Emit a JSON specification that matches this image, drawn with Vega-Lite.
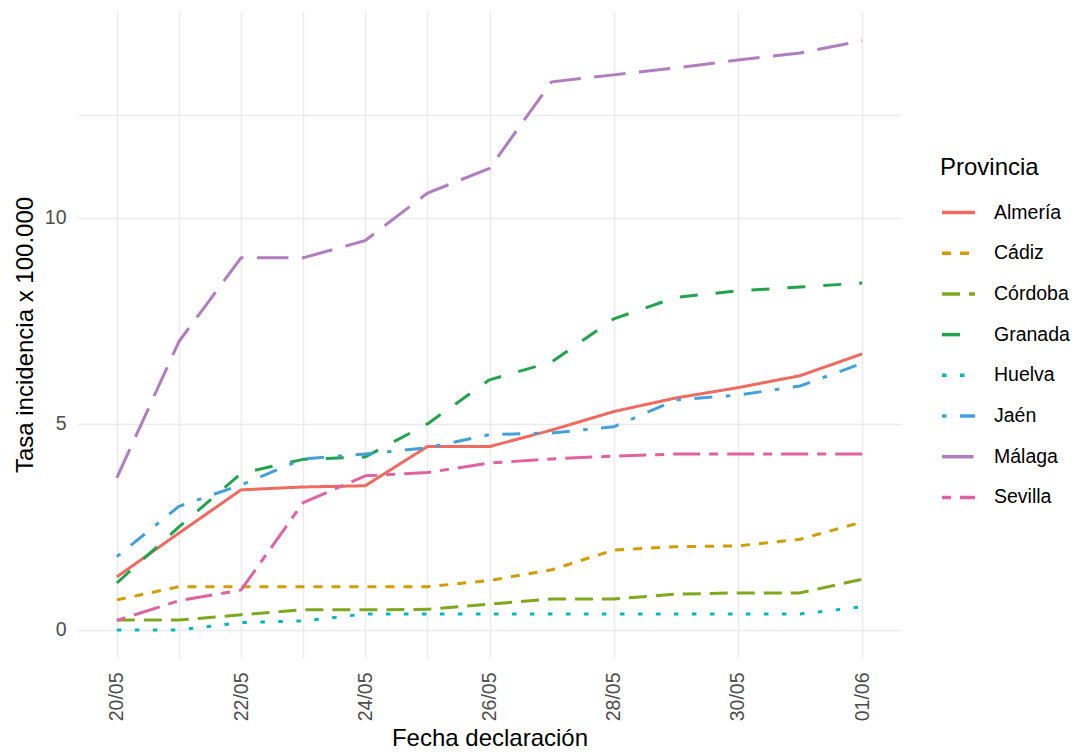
{
  "$schema": "https://vega.github.io/schema/vega-lite/v6.json",
  "autosize": {"type": "none"},
  "width": 823,
  "height": 647,
  "padding": {"left": 78, "top": 11, "right": 176, "bottom": 98},
  "background": "white",
  "config": {
    "font": "Liberation Sans",
    "view": {"stroke": null},
    "axis": {
      "ticks": false,
      "domain": false,
      "grid": true,
      "gridColor": "#EBEBEB",
      "gridWidth": 1.5,
      "labelFontSize": 19.5,
      "labelColor": "#4D4D4D",
      "labelFont": "Liberation Sans",
      "titleFont": "Liberation Sans",
      "titleFontSize": 24,
      "titleFontWeight": "normal",
      "titleColor": "#000000"
    },
    "legend": {
      "symbolType": "stroke",
      "symbolSize": 1089,
      "symbolStrokeWidth": 3.5,
      "labelFontSize": 19.5,
      "labelColor": "#000000",
      "labelFont": "Liberation Sans",
      "titleFont": "Liberation Sans",
      "titleFontSize": 24,
      "titleFontWeight": "normal",
      "titleColor": "#000000",
      "labelOffset": 17,
      "rowPadding": 12.7,
      "titlePadding": 14,
      "padding": 0
    }
  },
  "data": {
    "values": [
      {"fecha": "2020-05-20", "provincia": "Almería", "tasa": 1.29},
      {"fecha": "2020-05-21", "provincia": "Almería", "tasa": 2.35},
      {"fecha": "2020-05-22", "provincia": "Almería", "tasa": 3.4},
      {"fecha": "2020-05-23", "provincia": "Almería", "tasa": 3.47},
      {"fecha": "2020-05-24", "provincia": "Almería", "tasa": 3.5},
      {"fecha": "2020-05-25", "provincia": "Almería", "tasa": 4.45},
      {"fecha": "2020-05-26", "provincia": "Almería", "tasa": 4.45},
      {"fecha": "2020-05-27", "provincia": "Almería", "tasa": 4.85},
      {"fecha": "2020-05-28", "provincia": "Almería", "tasa": 5.3},
      {"fecha": "2020-05-29", "provincia": "Almería", "tasa": 5.63},
      {"fecha": "2020-05-30", "provincia": "Almería", "tasa": 5.88},
      {"fecha": "2020-05-31", "provincia": "Almería", "tasa": 6.17},
      {"fecha": "2020-06-01", "provincia": "Almería", "tasa": 6.7},

      {"fecha": "2020-05-20", "provincia": "Cádiz", "tasa": 0.73},
      {"fecha": "2020-05-21", "provincia": "Cádiz", "tasa": 1.05},
      {"fecha": "2020-05-22", "provincia": "Cádiz", "tasa": 1.05},
      {"fecha": "2020-05-23", "provincia": "Cádiz", "tasa": 1.05},
      {"fecha": "2020-05-24", "provincia": "Cádiz", "tasa": 1.05},
      {"fecha": "2020-05-25", "provincia": "Cádiz", "tasa": 1.05},
      {"fecha": "2020-05-26", "provincia": "Cádiz", "tasa": 1.2},
      {"fecha": "2020-05-27", "provincia": "Cádiz", "tasa": 1.46},
      {"fecha": "2020-05-28", "provincia": "Cádiz", "tasa": 1.94},
      {"fecha": "2020-05-29", "provincia": "Cádiz", "tasa": 2.02},
      {"fecha": "2020-05-30", "provincia": "Cádiz", "tasa": 2.04},
      {"fecha": "2020-05-31", "provincia": "Cádiz", "tasa": 2.2},
      {"fecha": "2020-06-01", "provincia": "Cádiz", "tasa": 2.62},

      {"fecha": "2020-05-20", "provincia": "Córdoba", "tasa": 0.24},
      {"fecha": "2020-05-21", "provincia": "Córdoba", "tasa": 0.24},
      {"fecha": "2020-05-22", "provincia": "Córdoba", "tasa": 0.37},
      {"fecha": "2020-05-23", "provincia": "Córdoba", "tasa": 0.49},
      {"fecha": "2020-05-24", "provincia": "Córdoba", "tasa": 0.49},
      {"fecha": "2020-05-25", "provincia": "Córdoba", "tasa": 0.5},
      {"fecha": "2020-05-26", "provincia": "Córdoba", "tasa": 0.63},
      {"fecha": "2020-05-27", "provincia": "Córdoba", "tasa": 0.75},
      {"fecha": "2020-05-28", "provincia": "Córdoba", "tasa": 0.75},
      {"fecha": "2020-05-29", "provincia": "Córdoba", "tasa": 0.87},
      {"fecha": "2020-05-30", "provincia": "Córdoba", "tasa": 0.9},
      {"fecha": "2020-05-31", "provincia": "Córdoba", "tasa": 0.9},
      {"fecha": "2020-06-01", "provincia": "Córdoba", "tasa": 1.23},

      {"fecha": "2020-05-20", "provincia": "Granada", "tasa": 1.14},
      {"fecha": "2020-05-21", "provincia": "Granada", "tasa": 2.5},
      {"fecha": "2020-05-22", "provincia": "Granada", "tasa": 3.8},
      {"fecha": "2020-05-23", "provincia": "Granada", "tasa": 4.14},
      {"fecha": "2020-05-24", "provincia": "Granada", "tasa": 4.2},
      {"fecha": "2020-05-25", "provincia": "Granada", "tasa": 5.0},
      {"fecha": "2020-05-26", "provincia": "Granada", "tasa": 6.07},
      {"fecha": "2020-05-27", "provincia": "Granada", "tasa": 6.5},
      {"fecha": "2020-05-28", "provincia": "Granada", "tasa": 7.55},
      {"fecha": "2020-05-29", "provincia": "Granada", "tasa": 8.07},
      {"fecha": "2020-05-30", "provincia": "Granada", "tasa": 8.23},
      {"fecha": "2020-05-31", "provincia": "Granada", "tasa": 8.32},
      {"fecha": "2020-06-01", "provincia": "Granada", "tasa": 8.42},

      {"fecha": "2020-05-20", "provincia": "Huelva", "tasa": 0.0},
      {"fecha": "2020-05-21", "provincia": "Huelva", "tasa": 0.0},
      {"fecha": "2020-05-22", "provincia": "Huelva", "tasa": 0.18},
      {"fecha": "2020-05-23", "provincia": "Huelva", "tasa": 0.22},
      {"fecha": "2020-05-24", "provincia": "Huelva", "tasa": 0.39},
      {"fecha": "2020-05-25", "provincia": "Huelva", "tasa": 0.39},
      {"fecha": "2020-05-26", "provincia": "Huelva", "tasa": 0.39},
      {"fecha": "2020-05-27", "provincia": "Huelva", "tasa": 0.39},
      {"fecha": "2020-05-28", "provincia": "Huelva", "tasa": 0.39},
      {"fecha": "2020-05-29", "provincia": "Huelva", "tasa": 0.39},
      {"fecha": "2020-05-30", "provincia": "Huelva", "tasa": 0.39},
      {"fecha": "2020-05-31", "provincia": "Huelva", "tasa": 0.39},
      {"fecha": "2020-06-01", "provincia": "Huelva", "tasa": 0.56},

      {"fecha": "2020-05-20", "provincia": "Jaén", "tasa": 1.78},
      {"fecha": "2020-05-21", "provincia": "Jaén", "tasa": 3.0},
      {"fecha": "2020-05-22", "provincia": "Jaén", "tasa": 3.52},
      {"fecha": "2020-05-23", "provincia": "Jaén", "tasa": 4.15},
      {"fecha": "2020-05-24", "provincia": "Jaén", "tasa": 4.27},
      {"fecha": "2020-05-25", "provincia": "Jaén", "tasa": 4.42},
      {"fecha": "2020-05-26", "provincia": "Jaén", "tasa": 4.74},
      {"fecha": "2020-05-27", "provincia": "Jaén", "tasa": 4.78},
      {"fecha": "2020-05-28", "provincia": "Jaén", "tasa": 4.93},
      {"fecha": "2020-05-29", "provincia": "Jaén", "tasa": 5.58},
      {"fecha": "2020-05-30", "provincia": "Jaén", "tasa": 5.7},
      {"fecha": "2020-05-31", "provincia": "Jaén", "tasa": 5.92},
      {"fecha": "2020-06-01", "provincia": "Jaén", "tasa": 6.47},

      {"fecha": "2020-05-20", "provincia": "Málaga", "tasa": 3.69},
      {"fecha": "2020-05-21", "provincia": "Málaga", "tasa": 7.0},
      {"fecha": "2020-05-22", "provincia": "Málaga", "tasa": 9.03},
      {"fecha": "2020-05-23", "provincia": "Málaga", "tasa": 9.03},
      {"fecha": "2020-05-24", "provincia": "Málaga", "tasa": 9.45},
      {"fecha": "2020-05-25", "provincia": "Málaga", "tasa": 10.6},
      {"fecha": "2020-05-26", "provincia": "Málaga", "tasa": 11.2},
      {"fecha": "2020-05-27", "provincia": "Málaga", "tasa": 13.3},
      {"fecha": "2020-05-28", "provincia": "Málaga", "tasa": 13.47},
      {"fecha": "2020-05-29", "provincia": "Málaga", "tasa": 13.64},
      {"fecha": "2020-05-30", "provincia": "Málaga", "tasa": 13.83},
      {"fecha": "2020-05-31", "provincia": "Málaga", "tasa": 14.0},
      {"fecha": "2020-06-01", "provincia": "Málaga", "tasa": 14.3},

      {"fecha": "2020-05-20", "provincia": "Sevilla", "tasa": 0.23},
      {"fecha": "2020-05-21", "provincia": "Sevilla", "tasa": 0.71},
      {"fecha": "2020-05-22", "provincia": "Sevilla", "tasa": 0.97},
      {"fecha": "2020-05-23", "provincia": "Sevilla", "tasa": 3.09},
      {"fecha": "2020-05-24", "provincia": "Sevilla", "tasa": 3.74},
      {"fecha": "2020-05-25", "provincia": "Sevilla", "tasa": 3.82},
      {"fecha": "2020-05-26", "provincia": "Sevilla", "tasa": 4.05},
      {"fecha": "2020-05-27", "provincia": "Sevilla", "tasa": 4.15},
      {"fecha": "2020-05-28", "provincia": "Sevilla", "tasa": 4.22},
      {"fecha": "2020-05-29", "provincia": "Sevilla", "tasa": 4.27},
      {"fecha": "2020-05-30", "provincia": "Sevilla", "tasa": 4.27},
      {"fecha": "2020-05-31", "provincia": "Sevilla", "tasa": 4.27},
      {"fecha": "2020-06-01", "provincia": "Sevilla", "tasa": 4.27}
    ]
  },
  "mark": {"type": "line", "strokeWidth": 3, "strokeCap": "butt", "strokeJoin": "round"},
  "encoding": {
    "x": {
      "field": "fecha",
      "type": "temporal",
      "scale": {
        "type": "utc",
        "domain": [
          {"year": 2020, "month": 5, "date": 19, "hours": 9, "utc": true},
          {"year": 2020, "month": 6, "date": 1, "hours": 15, "utc": true}
        ]
      },
      "axis": {
        "title": "Fecha declaración",
        "values": [
          {"year": 2020, "month": 5, "date": 20, "utc": true},
          {"year": 2020, "month": 5, "date": 21, "utc": true},
          {"year": 2020, "month": 5, "date": 22, "utc": true},
          {"year": 2020, "month": 5, "date": 23, "utc": true},
          {"year": 2020, "month": 5, "date": 24, "utc": true},
          {"year": 2020, "month": 5, "date": 25, "utc": true},
          {"year": 2020, "month": 5, "date": 26, "utc": true},
          {"year": 2020, "month": 5, "date": 28, "utc": true},
          {"year": 2020, "month": 5, "date": 30, "utc": true},
          {"year": 2020, "month": 6, "date": 1, "utc": true}
        ],
        "labelExpr": "(utcmonth(datum.value) == 4 && utcdate(datum.value) % 2 == 1) ? '' : utcFormat(datum.value, '%d/%m')",
        "labelAngle": -90,
        "labelPadding": 14,
        "titlePadding": 6
      }
    },
    "y": {
      "field": "tasa",
      "type": "quantitative",
      "scale": {"domain": [-0.68, 15.02], "nice": false, "zero": false},
      "axis": {
        "title": "Tasa incidencia x 100.000",
        "values": [0, 5, 10, 12.5],
        "labelExpr": "datum.value == 12.5 ? '' : datum.label",
        "labelPadding": 12,
        "titlePadding": 7
      }
    },
    "color": {
      "field": "provincia",
      "type": "nominal",
      "scale": {
        "domain": ["Almería", "Cádiz", "Córdoba", "Granada", "Huelva", "Jaén", "Málaga", "Sevilla"],
        "range": ["#EF6A5F", "#D39C00", "#7EA81E", "#22A44E", "#00B7BF", "#44A0DA", "#B07EC0", "#E062A2"]
      },
      "legend": {"title": "Provincia", "orient": "none", "legendX": 862, "legendY": 145}
    },
    "strokeDash": {
      "field": "provincia",
      "type": "nominal",
      "scale": {
        "domain": ["Almería", "Cádiz", "Córdoba", "Granada", "Huelva", "Jaén", "Málaga", "Sevilla"],
        "range": [[1, 0], [9, 9], [18, 9], [18, 18], [4.5, 13.5], [4.5, 13.5, 18, 13.5], [31.5, 13.5], [9, 9, 27, 9]]
      },
      "legend": {"title": "Provincia", "orient": "none", "legendX": 862, "legendY": 145}
    }
  }
}
